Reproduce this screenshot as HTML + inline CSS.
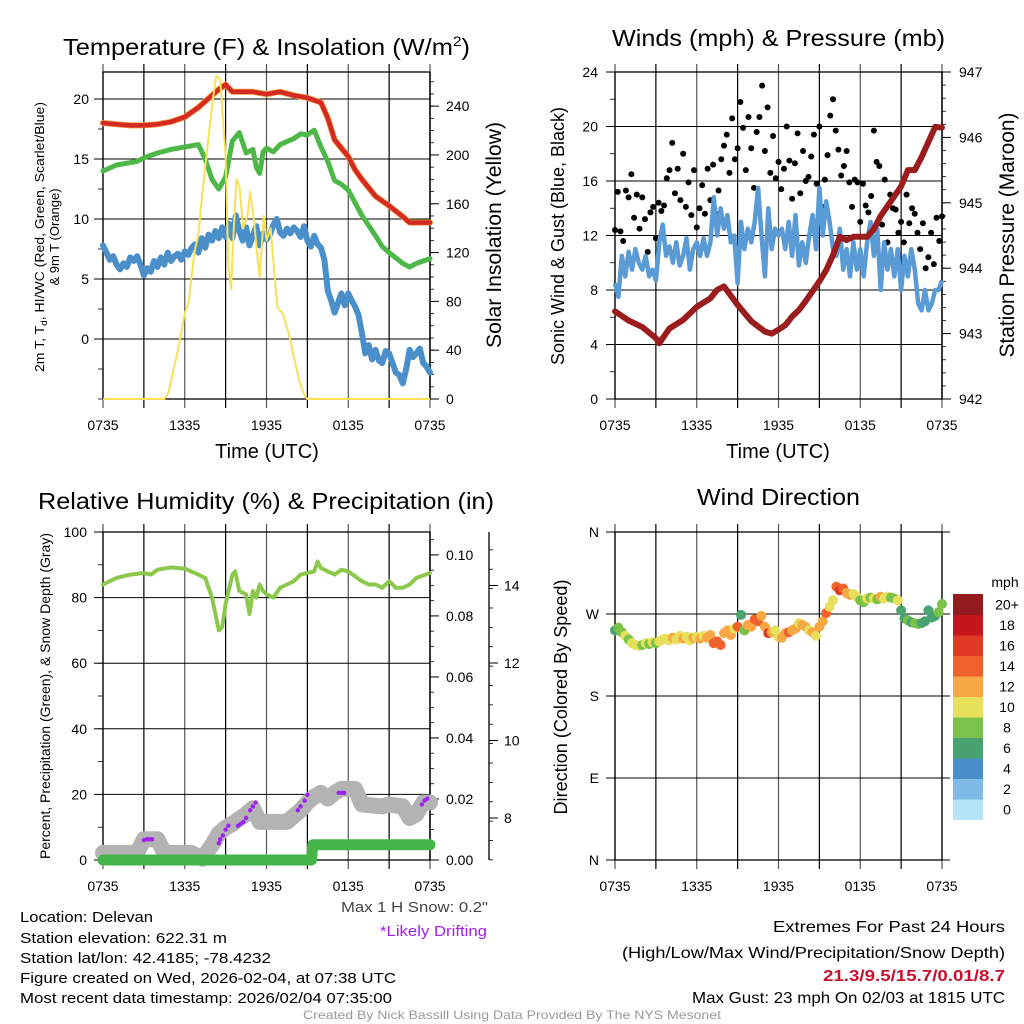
<!DOCTYPE html>
<html><head><meta charset="utf-8"><style>
html,body{margin:0;padding:0;background:#fff;}
svg{display:block;font-family:"Liberation Sans",Arial,sans-serif;}
</style></head><body>
<svg id="chart" xmlns="http://www.w3.org/2000/svg" width="1024" height="1024" viewBox="0 0 1024 1024">
<rect x="0" y="0" width="1024" height="1024" fill="#fff"/>
<text x="63" y="55" font-size="23" textLength="407" lengthAdjust="spacingAndGlyphs">Temperature (F) &amp; Insolation (W/m<tspan dy="-9" font-size="14">2</tspan><tspan dy="9">)</tspan></text>
<text x="612" y="46" font-size="23" textLength="333" lengthAdjust="spacingAndGlyphs">Winds (mph) &amp; Pressure (mb)</text>
<text x="38" y="509" font-size="23" textLength="456" lengthAdjust="spacingAndGlyphs">Relative Humidity (%) &amp; Precipitation (in)</text>
<text x="697" y="505" font-size="23" textLength="163" lengthAdjust="spacingAndGlyphs">Wind Direction</text>
<text x="267" y="458" font-size="20" text-anchor="middle">Time (UTC)</text>
<text x="778" y="458" font-size="20" text-anchor="middle">Time (UTC)</text>
<text transform="translate(44,237) rotate(-90)" font-size="13" text-anchor="middle" textLength="270" lengthAdjust="spacingAndGlyphs">2m T, T<tspan font-size="9" dy="3">d</tspan><tspan dy="-3">, HI/WC (Red, Green, Scarlet/Blue)</tspan></text>
<text transform="translate(59,237) rotate(-90)" font-size="13" text-anchor="middle">&amp; 9m T (Orange)</text>
<text transform="translate(501,235) rotate(-90)" font-size="21" text-anchor="middle" textLength="226" lengthAdjust="spacingAndGlyphs">Solar Insolation (Yellow)</text>
<text transform="translate(564,236) rotate(-90)" font-size="18" text-anchor="middle" textLength="258" lengthAdjust="spacingAndGlyphs">Sonic Wind &amp; Gust (Blue, Black)</text>
<text transform="translate(1014,235) rotate(-90)" font-size="21" text-anchor="middle" textLength="245" lengthAdjust="spacingAndGlyphs">Station Pressure (Maroon)</text>
<text transform="translate(50,696) rotate(-90)" font-size="14" text-anchor="middle" textLength="326" lengthAdjust="spacingAndGlyphs">Percent, Precipitation (Green), &amp; Snow Depth (Gray)</text>
<text transform="translate(567,697) rotate(-90)" font-size="18" text-anchor="middle" textLength="235" lengthAdjust="spacingAndGlyphs">Direction (Colored By Speed)</text>
<g font-size="15">
<text x="20" y="922" textLength="133" lengthAdjust="spacingAndGlyphs">Location: Delevan</text>
<text x="20" y="943" textLength="207" lengthAdjust="spacingAndGlyphs">Station elevation: 622.31 m</text>
<text x="20" y="963" textLength="251" lengthAdjust="spacingAndGlyphs">Station lat/lon: 42.4185; -78.4232</text>
<text x="20" y="983" textLength="376" lengthAdjust="spacingAndGlyphs">Figure created on Wed, 2026-02-04, at 07:38 UTC</text>
<text x="20" y="1003" textLength="372" lengthAdjust="spacingAndGlyphs">Most recent data timestamp: 2026/02/04 07:35:00</text>
</g>
<text x="341" y="912" font-size="15" fill="#444" textLength="147" lengthAdjust="spacingAndGlyphs">Max 1 H Snow: 0.2"</text>
<text x="380" y="936" font-size="15" fill="#a020f0" textLength="107" lengthAdjust="spacingAndGlyphs">*Likely Drifting</text>
<text x="1005" y="932" font-size="16" text-anchor="end" textLength="232" lengthAdjust="spacingAndGlyphs">Extremes For Past 24 Hours</text>
<text x="1005" y="958" font-size="16" text-anchor="end" textLength="383" lengthAdjust="spacingAndGlyphs">(High/Low/Max Wind/Precipitation/Snow Depth)</text>
<text x="1005" y="981" font-size="16" font-weight="bold" fill="#c8102e" text-anchor="end" textLength="182" lengthAdjust="spacingAndGlyphs">21.3/9.5/15.7/0.01/8.7</text>
<text x="1005" y="1003" font-size="16" text-anchor="end" textLength="313" lengthAdjust="spacingAndGlyphs">Max Gust: 23 mph On 02/03 at 1815 UTC</text>
<text x="512" y="1019" font-size="12" fill="#999" text-anchor="middle" textLength="418" lengthAdjust="spacingAndGlyphs">Created By Nick Bassill Using Data Provided By The NYS Mesonet</text>
</svg>
<script>
// ---------- DATA ----------
const timeTickLabels = ["0735","1335","1935","0135","0735"];
const tempTicks = [0,5,10,15,20];
const insolTicks = [0,40,80,120,160,200,240];
const windTicks = [0,4,8,12,16,20,24];
const pressTicks = [942,943,944,945,946,947];
const rhTicks = [0,20,40,60,80,100];
const precipTicks = [0,0.02,0.04,0.06,0.08,0.10];
const precipTickLabels = ["0.00","0.02","0.04","0.06","0.08","0.10"];
const snowTicks = [8,10,12,14];
const dirTicks = [0,90,180,270,360];
const dirTickLabels = ["N","E","S","W","N"];
const speedBins = ["0","2","4","6","8","10","12","14","16","18","20+"];
const speedColors = ["#b5e3f7","#7fbbe6","#4a8fc7","#48a371","#7bc24a","#e6e05a","#f7a845","#f0622b","#e03a27","#c4161c","#931a1d"];

const tempTimes = [0,1,2,3,4,5,6,7,8,8.5,9,9.5,10,11,12,13,14,15,15.5,16,16.5,17,17.5,18,18.5,19,20,21,22,22.5,23,24];
const tempValues = [18.0,17.9,17.8,17.8,17.9,18.1,18.5,19.3,20.3,20.8,21.2,20.6,20.6,20.6,20.4,20.6,20.3,20.1,19.9,19.7,18.4,16.6,15.9,15.2,14.1,13.3,11.9,11.1,10.2,9.7,9.7,9.7];
const dewTimes = [0,1,2,2.5,3,4,5,6,7,7.5,8,8.5,9,9.5,10,10.5,11,11.25,11.5,11.75,12,12.5,13,14,14.5,15,15.5,16,16.5,17,17.5,18,19,20,20.5,21,22,22.5,23,24];
const dewValues = [14.0,14.5,14.7,14.8,15.1,15.5,15.8,16.0,16.2,15.0,13.3,12.5,13.5,16.5,17.2,15.5,15.8,14.3,13.8,15.6,15.9,15.6,16.2,16.7,17.1,17.0,17.4,16.0,14.8,13.2,12.9,12.4,10.3,8.6,7.7,7.2,6.3,6.0,6.3,6.7];
const chillValues = [7.8,7.2,6.6,6.9,6.2,5.8,6.3,6.0,6.8,
 6.5,6.9,6.2,5.3,5.9,5.6,6.5,6.0,
 6.8,6.2,7.2,6.5,6.9,7.1,6.6,7.3,
 7.0,7.6,7.9,7.2,8.4,7.6,8.7,8.2,
 9.0,8.4,9.3,8.5,9.6,8.4,10.3,9.0,
 8.2,9.3,7.8,8.6,9.4,7.8,8.8,8.3,
 8.7,9.5,10.0,8.9,8.6,9.2,8.8,9.3,
 9.0,8.5,9.4,8.2,7.7,8.6,7.9,7.6,
 6.6,4.0,3.2,2.2,3.0,3.8,2.8,3.8,
 3.2,2.7,2.0,0.5,-1.2,-0.5,-1.7,-0.9,
 -1.8,-2.0,-1.0,-1.2,-2.0,-2.8,-3.0,-3.7,
 -2.5,-0.9,-1.5,-1.2,-0.8,-2.0,-2.3,-2.8];
const insolTimes = [0,4.5,4.8,5.5,6,6.3,6.7,7,7.3,7.6,8,8.3,8.6,9,9.2,9.4,9.6,9.8,10,10.3,10.6,10.8,11.1,11.3,11.5,11.8,12,12.3,12.6,12.8,13.2,13.6,14,14.4,14.8,15,24];
const insolValues = [0,0,5,40,70,80,120,135,170,200,240,265,262,200,110,90,140,180,175,140,150,170,145,120,100,150,130,140,100,75,70,55,35,15,3,0,0];

const windValues = [8.5,7.5,10.5,9.0,10.8,9.5,11.0,10.0,9.5,
 10.5,9.0,9.5,8.7,11.5,12.8,10.5,11.2,
 10.0,11.5,9.8,10.5,11.8,9.5,11.0,11.5,
 10.5,11.8,10.5,11.5,14.8,12.0,14.0,12.5,
 13.5,11.5,12.0,8.5,13.0,11.0,12.5,11.5,
 13.0,15.5,12.0,9.0,14.0,11.0,12.5,12.0,
 12.5,11.0,13.0,10.5,13.5,9.8,11.5,10.0,
 12.0,13.5,11.0,15.5,12.0,14.5,13.0,11.0,
 10.5,12.5,9.5,11.0,9.0,11.5,9.5,11.0,
 9.0,11.5,13.0,10.5,12.5,8.0,11.5,9.5,
 11.0,9.0,11.0,8.0,10.5,9.0,11.0,9.5,
 7.0,6.5,8.0,6.5,7.0,8.0,8.0,8.7];
const gustValues = [12.4,15.2,12.3,11.6,15.3,14.8,16.5,13.3,15.0,12.5,14.8,
 13.2,10.8,13.7,14.1,11.8,14.4,13.8,14.2,16.2,16.8,
 18.8,15.1,16.9,14.6,18.0,14.1,15.9,13.5,16.8,12.6,
 14.0,15.7,13.6,16.9,14.6,17.2,13.6,15.3,17.6,18.6,
 19.4,16.6,20.6,17.6,18.4,21.8,19.9,16.8,20.7,18.4,
 15.5,19.6,20.7,23.0,18.2,21.4,16.6,19.3,16.2,17.4,
 15.4,16.9,20.0,17.5,14.7,17.3,19.5,15.1,18.2,16.0,
 16.3,17.8,19.4,15.8,20.0,14.1,16.1,17.9,20.8,22.0,
 19.7,18.3,16.4,17.1,18.2,15.9,14.1,16.1,15.9,13.0,
 15.8,14.2,13.7,14.9,19.7,17.4,17.1,12.8,16.1,11.5,
 15.0,14.0,13.9,12.2,13.0,11.5,15.0,12.9,14.0,13.6,
 12.2,11.0,12.9,9.6,10.4,12.2,9.9,13.3,11.6,13.4];
const pressTimes = [0,1,2,3,3.25,3.5,4,5,6,7,7.5,8,9,10,11,11.5,12,12.5,13,13.5,14,15,15.5,16,16.5,17,17.5,18,18.5,19,19.5,20,20.5,21,21.5,22,22.5,23,23.5,24];
const pressValues = [943.34,943.2,943.1,942.93,942.85,942.93,943.08,943.21,943.41,943.54,943.67,943.72,943.44,943.19,943.03,943.0,943.06,943.13,943.26,943.36,943.5,943.8,943.97,944.2,944.48,944.43,944.48,944.48,944.48,944.6,944.8,944.95,945.1,945.25,945.5,945.5,945.7,945.93,946.16,946.15];

const rhTimes = [0,1,2,3,3.5,4,5,6,7,7.5,8,8.5,8.75,9,9.5,9.7,10,10.5,10.75,11,11.25,11.5,11.75,12,12.5,13,13.5,14,14.5,15,15.5,15.75,16,16.5,17,17.5,18,19,19.5,20,20.5,21,21.5,22,22.5,23,24];
const rhValues = [84,86,87,87.5,87,88.5,89.2,88.8,87,86,80,70,71,78,87,88,82,81,75,82,80,84,82,81,80,83,84,85,87,87.5,88,91,89,88,87,88.5,88,85,84,84,83,85,83,83,84,86,87.5];
const snowTimes = [0,2.5,3,4,4.5,6.5,7.3,8,8.5,9,9.5,10.5,11,11.5,13.5,14.5,15,15.5,16,16.5,17,17.5,18.5,19,20.5,21,22,22.5,23,23.5,24];
const snowValues = [7.1,7.1,7.45,7.45,7.1,7.1,6.95,7.3,7.6,7.75,7.85,8.1,8.25,7.9,7.9,8.2,8.4,8.55,8.65,8.5,8.65,8.75,8.75,8.35,8.3,8.35,8.3,8.0,8.1,8.4,8.4];
const driftTimes = [3.0,3.2,3.4,3.6,8.5,8.6,8.8,9.0,9.2,9.9,10.1,10.3,10.5,10.8,11.0,11.2,14.3,14.5,14.8,15.0,17.3,17.5,17.7,23.4,23.6,23.8];
const driftValues = [7.43,7.45,7.45,7.45,7.35,7.45,7.55,7.7,7.8,7.8,7.85,7.9,8.0,8.2,8.3,8.4,8.2,8.3,8.45,8.6,8.65,8.65,8.65,8.35,8.45,8.5];
const precipTimes = [0,15.3,15.4,24];
const precipValues = [0,0,0.005,0.005];

const dirValues = [252,255,250,246,242,238,236,235,236,
 238,237,239,238,240,242,243,241,
 244,242,246,243,245,241,244,245,
 243,246,244,247,238,240,236,249,
 252,247,254,256,269,252,258,256,
 264,262,268,256,249,250,252,245,
 244,249,250,252,254,260,258,256,
 252,250,246,256,262,271,278,285,
 300,296,298,293,291,292,289,285,
 283,287,288,287,286,289,287,289,
 288,287,285,274,265,263,261,260,
 259,260,262,274,266,268,272,281];
const dirSpeeds = [7,8,9,10,9,10,10,11,9,
 10,8,10,9,10,10,11,10,
 12,11,10,12,11,10,12,11,
 12,11,12,13,14,15,14,12,
 13,12,11,14,7,8,12,13,
 15,14,12,13,16,12,10,11,
 13,12,15,13,12,11,12,13,
 10,12,11,12,13,15,11,10,
 15,17,14,12,13,11,10,9,
 8,10,9,11,9,12,10,11,
 9,8,10,7,7,8,7,8,
 8,7,6,7,6,7,8,8];

// ---------- DRAWING ----------
const NS = 'http://www.w3.org/2000/svg';
const svg = document.getElementById('chart');
function mk(tag, attrs, parent) {
  const e = document.createElementNS(NS, tag);
  for (const k in attrs) e.setAttribute(k, attrs[k]);
  (parent || svg).appendChild(e);
  return e;
}
const P1 = {x0:103,x1:430,y0:72,y1:399};
const P2 = {x0:615,x1:942,y0:72,y1:399};
const P3 = {x0:103,x1:430,y0:532,y1:860};
const P4 = {x0:615,x1:942,y0:532,y1:860};
function xT(p, h) { return p.x0 + h / 24 * (p.x1 - p.x0); }
function yLin(p, v, lo, hi) { return p.y1 - (v - lo) / (hi - lo) * (p.y1 - p.y0); }
const yTemp = v => yLin(P1, v, -5, 22.25);
const yInsol = v => yLin(P1, v, 0, 268);
const yWind = v => yLin(P2, v, 0, 24);
const yPress = v => yLin(P2, v, 942, 947);
const yRH = v => yLin(P3, v, 0, 100);
const yPrecip = v => yLin(P3, v, 0, 0.1075);
const ySnow = v => 818 - (v - 8) * 38.75;
const yDir = v => yLin(P4, v, 0, 360);

function linePath(p, times, vals, yf) {
  return times.map((t, i) => (i ? 'L' : 'M') + xT(p, t).toFixed(1) + ' ' + yf(vals[i]).toFixed(1)).join(' ');
}

function frame(p, name, hTicks, yf, minorStep, minorLo, minorHi, labels, labelX, withRight) {
  const g = mk('g', {});
  
  
  for (let i = 0; i <= 8; i++) {
    const x = xT(p, i * 3);
    const l = mk('line', {x1:x, x2:x, y1:p.y0 - 8, y2:p.y1 + 9, stroke:(i % 2 ? '#000' : '#555'), 'stroke-width':1.2}, g);
    
    
  }
  hTicks.forEach((v, i) => {
    const y = yf(v);
    const l = mk('line', {x1:p.x0 - 9, x2:withRight ? p.x1 : p.x1 + 8, y1:y, y2:y, stroke:'#000', 'stroke-width':1}, g);
    
    
    const t = mk('text', {x:labelX, y:y + 5, 'font-size':14, 'text-anchor':'end'}, g);
    t.textContent = labels[i];
    
    
  });
  for (let v = minorLo; v <= minorHi + 1e-9; v += minorStep) {
    const y = yf(v);
    const l = mk('line', {x1:p.x0 - 5, x2:p.x0, y1:y, y2:y, stroke:'#000', 'stroke-width':0.8}, g);
    
    
  }
  const r = mk('rect', {x:p.x0, y:p.y0, width:p.x1 - p.x0, height:p.y1 - p.y0, fill:'none', stroke:'#000', 'stroke-width':1.3}, g);
  
  
  timeTickLabels.forEach((s, i) => {
    const t = mk('text', {x:xT(p, i * 6), y:p.y1 + 31, 'font-size':14, 'text-anchor':'middle'}, g);
    t.textContent = s;
    
    
  });
}
function rightAxis(p, name, ticks, labels, yf, minorStep, lo, hi, ax, labelX) {
  const g = mk('g', {});
  
  
  const a = mk('line', {x1:ax, x2:ax, y1:p.y0, y2:p.y1, stroke:'#000', 'stroke-width':1.3}, g);
  
  
  for (let v = lo; v <= hi + 1e-9; v += minorStep) {
    const y = yf(v);
    if (y < p.y0 - 0.5 || y > p.y1 + 0.5) continue;
    const l = mk('line', {x1:ax, x2:ax + 4, y1:y, y2:y, stroke:'#000', 'stroke-width':0.8}, g);
    
    
  }
  ticks.forEach((v, i) => {
    const y = yf(v);
    const l = mk('line', {x1:ax, x2:ax + 9, y1:y, y2:y, stroke:'#000', 'stroke-width':1}, g);
    
    
    const t = mk('text', {x:labelX, y:y + 5, 'font-size':14}, g);
    t.textContent = labels[i];
    
    
  });
}

// Panel 1
frame(P1, 'temperature', tempTicks, yTemp, 2.5, -5, 22.25, tempTicks.map(String), 89, true);
rightAxis(P1, 'insolation', insolTicks, insolTicks.map(String), yInsol, 10, 0, 268, P1.x1, 446);
let e;
e = mk('path', {d:linePath(P1, chillValues.map((v, i) => i * 0.25), chillValues, yTemp), fill:'none', stroke:'#4a8fca', 'stroke-width':6, 'stroke-linejoin':'round', 'stroke-linecap':'round'});


e = mk('path', {d:linePath(P1, dewTimes, dewValues, yTemp), fill:'none', stroke:'#4db848', 'stroke-width':5, 'stroke-linejoin':'round', 'stroke-linecap':'round'});


e = mk('path', {d:linePath(P1, tempTimes, tempValues, yTemp), fill:'none', stroke:'#f39c3a', 'stroke-width':6, 'stroke-linejoin':'round', 'stroke-linecap':'round'});


e = mk('path', {d:linePath(P1, tempTimes, tempValues, yTemp), fill:'none', stroke:'#d42a23', 'stroke-width':4.5, 'stroke-linejoin':'round', 'stroke-linecap':'round'});


e = mk('path', {d:linePath(P1, insolTimes, insolValues, yInsol), fill:'none', stroke:'#f7e156', 'stroke-width':2, 'stroke-linejoin':'round'});



// Panel 2
frame(P2, 'wind', windTicks, yWind, 2, 0, 24, windTicks.map(String), 598, true);
rightAxis(P2, 'pressure', pressTicks, pressTicks.map(String), yPress, 0.2, 942, 947, P2.x1, 959);
gustValues.forEach((v, i) => {
  const c = mk('circle', {cx:xT(P2, i * 0.2), cy:yWind(v), r:3, fill:'#000'});
  
  
});
e = mk('path', {d:linePath(P2, windValues.map((v, i) => i * 0.25), windValues, yWind), fill:'none', stroke:'#5a9bd5', 'stroke-width':4.5, 'stroke-linejoin':'round'});


e = mk('path', {d:linePath(P2, pressTimes, pressValues, yPress), fill:'none', stroke:'#9b1c1c', 'stroke-width':6, 'stroke-linejoin':'round', 'stroke-linecap':'round'});



// Panel 3
frame(P3, 'humidity', rhTicks, yRH, 10, 0, 100, rhTicks.map(String), 87, true);
rightAxis(P3, 'precipitation', precipTicks, precipTickLabels, yPrecip, 0.005, 0, 0.1075, P3.x1, 446);
rightAxis(P3, 'snow-depth', snowTicks, snowTicks.map(String), ySnow, 0.5, 6.92, 15.39, 489, 504);
e = mk('path', {d:linePath(P3, snowTimes, snowValues, ySnow), fill:'none', stroke:'#b3b3b3', 'stroke-width':16, 'stroke-linejoin':'round', 'stroke-linecap':'round'});


driftTimes.forEach((t, i) => {
  const c = mk('circle', {cx:xT(P3, t), cy:ySnow(driftValues[i]), r:2.2, fill:'#a020f0'});
  
  
});
e = mk('path', {d:linePath(P3, precipTimes, precipValues, yPrecip), fill:'none', stroke:'#46b549', 'stroke-width':11, 'stroke-linejoin':'round', 'stroke-linecap':'round'});


e = mk('path', {d:linePath(P3, rhTimes, rhValues, yRH), fill:'none', stroke:'#8cc84b', 'stroke-width':4, 'stroke-linejoin':'round', 'stroke-linecap':'round'});



// Panel 4
frame(P4, 'direction', dirTicks, yDir, 1000, 0, -1, dirTickLabels, 599, false);
dirValues.forEach((d, i) => {
  const bin = Math.min(10, Math.floor(dirSpeeds[i] / 2));
  const c = mk('circle', {cx:xT(P4, i * 0.25), cy:yDir(d), r:5, fill:speedColors[bin]});
  
  
});
const cb = mk('g', {});


const cbTop = 594, cbH = 20.5;
speedBins.forEach((s, i) => {
  const k = speedBins.length - 1 - i;
  const y = cbTop + k * cbH;
  const r = mk('rect', {x:953, y:y, width:30, height:cbH + 0.5, fill:speedColors[i]}, cb);
  
  
  const t = mk('text', {x:1007, y:y + cbH / 2 + 5, 'font-size':14, 'text-anchor':'middle'}, cb);
  t.textContent = s;
  
  
});
e = mk('text', {x:1005, y:587, 'font-size':14, 'text-anchor':'middle'}, cb);
e.textContent = 'mph';


</script>
</body></html>
